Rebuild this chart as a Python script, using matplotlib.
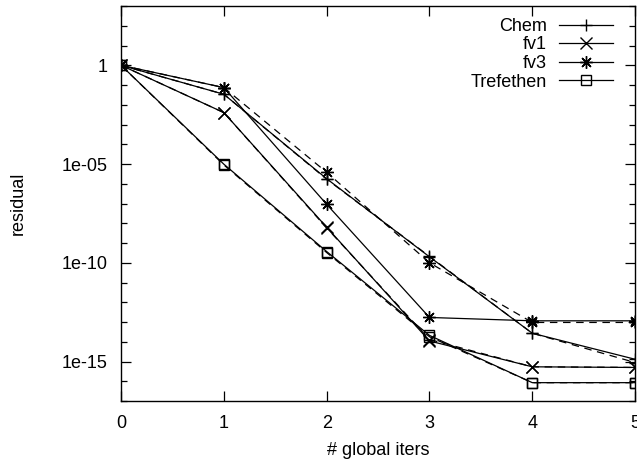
import numpy as np
import matplotlib
matplotlib.use('Agg')
from matplotlib import pyplot as plt
from matplotlib.ticker import FixedLocator, NullFormatter

plt.rcParams['font.family'] = ['Liberation Sans', 'DejaVu Sans']
plt.rcParams['font.size'] = 13

#data (residual per global iteration)
iters = [0, 1, 2, 3, 4, 5]
chem = [1, 3.4e-2, 1.8e-6, 2.0e-10, 2.7e-14, 1.3e-15]
chem_b = [1, 3.4e-2, 1.7e-6, 2.1e-10, 2.7e-14, 8.9e-16]
fv1 = [1, 4.0e-3, 6.3e-9, 1.1e-14, 5.4e-16, 5.0e-16]
fv1_b = [1, 4.0e-3, 5.8e-9, 1.3e-14, 5.4e-16, 5.0e-16]
fv3 = [1, 7.4e-2, 9.1e-8, 1.7e-13, 1.15e-13, 1.15e-13]
fv3_b = [1, 7.4e-2, 3.8e-6, 1.0e-10, 9.5e-14, 9.5e-14]
tref = [1, 9.8e-6, 3.7e-10, 2.1e-14, 8.5e-17, 8.5e-17]
tref_b = [1, 9.0e-6, 3.3e-10, 1.8e-14, 8.5e-17, 8.5e-17]

names = ['Chem', 'fv1', 'fv3', 'Trefethen']
solid = [chem, fv1, fv3, tref]
dashed = [chem_b, fv1_b, fv3_b, tref_b]
markers = ['+', 'x', (8, 2, 0), 's']
msizes = [9, 8, 9, 7]

ytick_vals = [1, 1e-5, 1e-10, 1e-15]
ytick_labels = ['1', '1e-05', '1e-10', '1e-15']

fig = plt.figure(figsize=(6.37, 4.62), dpi=100)
ax = fig.add_axes([0.19, 0.132, 0.807, 0.855])

for y, m, ms in zip(dashed, markers, msizes):
    ax.plot(iters, y, color='k', lw=0.9, ls='--', dashes=(6, 4.5), marker=m, ms=ms,
            mfc='none', mew=1.0)
for y, m, ms, n in zip(solid, markers, msizes, names):
    ax.plot(iters, y, color='k', lw=0.9, marker=m, ms=ms, mfc='none', mew=1.0, label=n)

ax.set_yscale('log')
ax.set_xlim(0, 5)
ax.set_ylim(1e-17, 1e3)
ax.set_xticks(iters)
ax.set_yticks(ytick_vals, ytick_labels)
ax.yaxis.set_minor_locator(FixedLocator([10.0**k for k in range(-17, 4)]))
ax.yaxis.set_minor_formatter(NullFormatter())
ax.tick_params(which='both', direction='in', top=True, right=True, width=0.9)
ax.tick_params(which='major', length=7)
ax.tick_params(which='minor', length=4)
ax.tick_params(axis='x', pad=10)
ax.tick_params(axis='y', pad=10)
for s in ax.spines.values():
    s.set_linewidth(1.0)

ax.set_xlabel('# global iters', labelpad=7)
ax.set_ylabel('residual', labelpad=25)

#markerfirst=False right-aligns the rows, so labels end flush against the samples
leg = ax.legend(loc='upper right', bbox_to_anchor=(0.957, 0.97), frameon=False,
                markerfirst=False, handlelength=3.0, handletextpad=0.65,
                borderpad=0, borderaxespad=0, labelspacing=0.09)

fig.savefig('out.png', dpi=100)
